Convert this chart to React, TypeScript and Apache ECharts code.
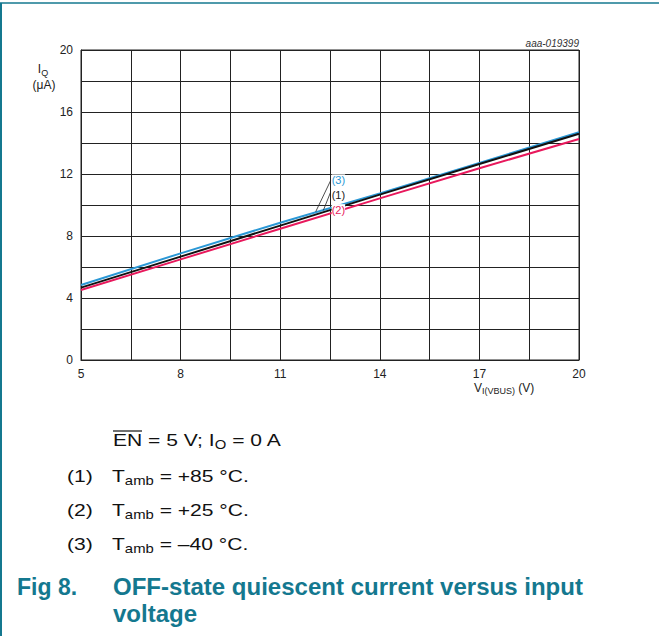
import React, { useEffect, useRef } from 'react';
import * as echarts from 'echarts';

// ---- data ----
const vin = [5, 8, 11, 14, 17, 20];
const iq85 = [4.67, 6.67, 8.67, 10.67, 12.64, 14.6]; // (1) Tamb = +85 °C
const iq25 = [4.52, 6.49, 8.47, 10.43, 12.37, 14.26]; // (2) Tamb = +25 °C
const iqm40 = [4.84, 6.88, 8.86, 10.75, 12.72, 14.69]; // (3) Tamb = -40 °C
const xTickLabels = [5, 8, 11, 14, 17, 20];
const yTickLabels = [0, 4, 8, 12, 16, 20];
const curveTags = ['(3)', '(1)', '(2)'];
const captionRows = ['(1)', '(2)', '(3)'];
const captionTemps = ['+85', '+25', '\u201340'];

// annotation anchor points in data coordinates
const tagAnchors = [
  [12.55, 11.62],
  [12.55, 10.66],
  [12.55, 9.7],
];
const leaders = [
  [[12.07, 9.57], [12.52, 11.58]],
  [[12.3, 9.66], [12.52, 10.84]],
];

const FONT = '"Liberation Sans", Arial, Helvetica, sans-serif';
const TEAL = '#14788f';
const BLACK = '#111111';
const RED = '#e8185c';
const BLUE = '#2a98d6';
const GRID = '#222222';

export default function App() {
  const ref = useRef<HTMLDivElement>(null);
  useEffect(() => {
    if (!ref.current) return;
    const chart = echarts.init(ref.current, undefined, { renderer: 'svg' });
    const toPairs = (ys: number[]) => vin.map((x, i) => [x, ys[i]]);
    chart.setOption({
      animation: false,
      backgroundColor: '#ffffff',
      grid: {
        left: 81,
        right: 80,
        top: 50,
        bottom: 276,
        show: true,
        borderColor: GRID,
        borderWidth: 1,
      },
      xAxis: {
        type: 'value',
        min: 5,
        max: 20,
        interval: 1.5,
        axisLine: { show: true, lineStyle: { color: GRID, width: 1 } },
        axisTick: { show: false },
        splitLine: { show: true, lineStyle: { color: GRID, width: 1 } },
        axisLabel: {
          color: '#222',
          fontSize: 12,
          fontFamily: FONT,
          margin: 8,
          formatter: (v: number) => (xTickLabels.some((t) => Math.abs(t - v) < 1e-6) ? String(Math.round(v)) : ''),
        },
      },
      yAxis: {
        type: 'value',
        min: 0,
        max: 20,
        interval: 2,
        axisLine: { show: true, lineStyle: { color: GRID, width: 1 } },
        axisTick: { show: false },
        splitLine: { show: true, lineStyle: { color: GRID, width: 1 } },
        axisLabel: {
          color: '#222',
          fontSize: 12,
          fontFamily: FONT,
          margin: 8,
          formatter: (v: number) => (yTickLabels.some((t) => Math.abs(t - v) < 1e-6) ? String(Math.round(v)) : ''),
        },
      },
      series: [
        {
          name: '(2) +25 °C',
          type: 'line',
          data: toPairs(iq25),
          showSymbol: false,
          lineStyle: { color: RED, width: 2 },
          z: 3,
        },
        {
          name: '(3) -40 °C',
          type: 'line',
          data: toPairs(iqm40),
          showSymbol: false,
          lineStyle: { color: BLUE, width: 2 },
          z: 4,
        },
        {
          name: '(1) +85 °C',
          type: 'line',
          data: toPairs(iq85),
          showSymbol: false,
          lineStyle: { color: BLACK, width: 2 },
          z: 5,
        },
      ],
    });

    const px = (p: number[]) => chart.convertToPixel({ gridIndex: 0 }, p) as number[];
    const tagColors = [BLUE, '#222', RED];
    const graphics: any[] = [];

    // frame lines
    graphics.push({ type: 'line', shape: { x1: 1, y1: 3, x2: 1, y2: 636 }, style: { stroke: TEAL, lineWidth: 2 } });
    graphics.push({ type: 'line', shape: { x1: 0, y1: 3, x2: 659, y2: 3 }, style: { stroke: TEAL, lineWidth: 1.5 } });

    // leader lines & curve tags
    leaders.forEach((l) => {
      const a = px(l[0]);
      const b = px(l[1]);
      graphics.push({ type: 'line', shape: { x1: a[0], y1: a[1], x2: b[0], y2: b[1] }, style: { stroke: '#222', lineWidth: 0.8 }, z: 10 });
    });
    curveTags.forEach((t, i) => {
      const p = px(tagAnchors[i]);
      graphics.push({
        type: 'text',
        x: p[0],
        y: p[1],
        z: 10,
        style: { text: t, fill: tagColors[i], font: `11px ${FONT}`, textAlign: 'left', textVerticalAlign: 'middle', backgroundColor: '#fff' },
      });
    });

    // code top right
    graphics.push({
      type: 'text',
      x: 579,
      y: 43,
      style: { text: 'aaa-019399', fill: '#333', font: `italic 10px ${FONT}`, textAlign: 'right', textVerticalAlign: 'middle' },
    });

    const axRich = {
      a: { fontSize: 12, fontFamily: FONT, fill: '#222', lineHeight: 13, verticalAlign: 'top' },
      b: { fontSize: 9, fontFamily: FONT, fill: '#222', lineHeight: 9, verticalAlign: 'bottom', padding: [0, 0, -1, 0] },
    };
    // y axis name
    graphics.push({
      type: 'text',
      x: 43,
      y: 76,
      style: { text: '{a|I}{b|Q}', textAlign: 'center', textVerticalAlign: 'bottom', rich: axRich },
    });
    graphics.push({
      type: 'text',
      x: 44,
      y: 85,
      style: { text: '(\u03bcA)', fill: '#222', font: `12px ${FONT}`, textAlign: 'center', textVerticalAlign: 'middle' },
    });

    // x axis name
    graphics.push({
      type: 'text',
      x: 474,
      y: 388,
      style: { text: '{a|V}{b|I(VBUS)}{a| (V)}', textAlign: 'left', textVerticalAlign: 'middle', rich: axRich },
    });

    // caption
    const SX = 1.24;
    const capRich = {
      n: { fontSize: 17, fontFamily: FONT, fill: '#111', lineHeight: 18, verticalAlign: 'top' },
      s: { fontSize: 12, fontFamily: FONT, fill: '#111', lineHeight: 12, verticalAlign: 'bottom', padding: [0, 0, -1, 0] },
    };
    graphics.push({
      type: 'text',
      x: 113,
      y: 441,
      scaleX: SX,
      style: { text: '{n|EN = 5 V; I}{s|O}{n| = 0 A}', textAlign: 'left', textVerticalAlign: 'middle', rich: capRich },
    });
    graphics.push({ type: 'line', shape: { x1: 113, y1: 431, x2: 142, y2: 431 }, style: { stroke: '#111', lineWidth: 1.2 } });
    captionRows.forEach((r, i) => {
      const y = 477 + i * 34;
      graphics.push({
        type: 'text',
        x: 67,
        y,
        scaleX: SX,
        style: { text: `{n|${r}}`, textAlign: 'left', textVerticalAlign: 'middle', rich: capRich },
      });
      graphics.push({
        type: 'text',
        x: 112,
        y,
        scaleX: SX,
        style: { text: `{n|T}{s|amb}{n| = ${captionTemps[i]} \u00b0C.}`, textAlign: 'left', textVerticalAlign: 'middle', rich: capRich },
      });
    });
    graphics.push({
      type: 'text',
      x: 17,
      y: 587,
      style: { text: 'Fig 8.', fill: TEAL, font: `bold 23px ${FONT}`, textAlign: 'left', textVerticalAlign: 'middle' },
    });
    graphics.push({
      type: 'text',
      x: 113,
      y: 587,
      scaleX: 1.045,
      style: { text: 'OFF-state quiescent current versus input', fill: TEAL, font: `bold 23px ${FONT}`, textAlign: 'left', textVerticalAlign: 'middle' },
    });
    graphics.push({
      type: 'text',
      x: 113,
      y: 614,
      scaleX: 1.045,
      style: { text: 'voltage', fill: TEAL, font: `bold 23px ${FONT}`, textAlign: 'left', textVerticalAlign: 'middle' },
    });

    chart.setOption({ graphic: graphics });
    return () => chart.dispose();
  }, []);
  return <div ref={ref} style={{ position: 'absolute', left: 0, top: 0, width: 659, height: 636 }} />;
}
